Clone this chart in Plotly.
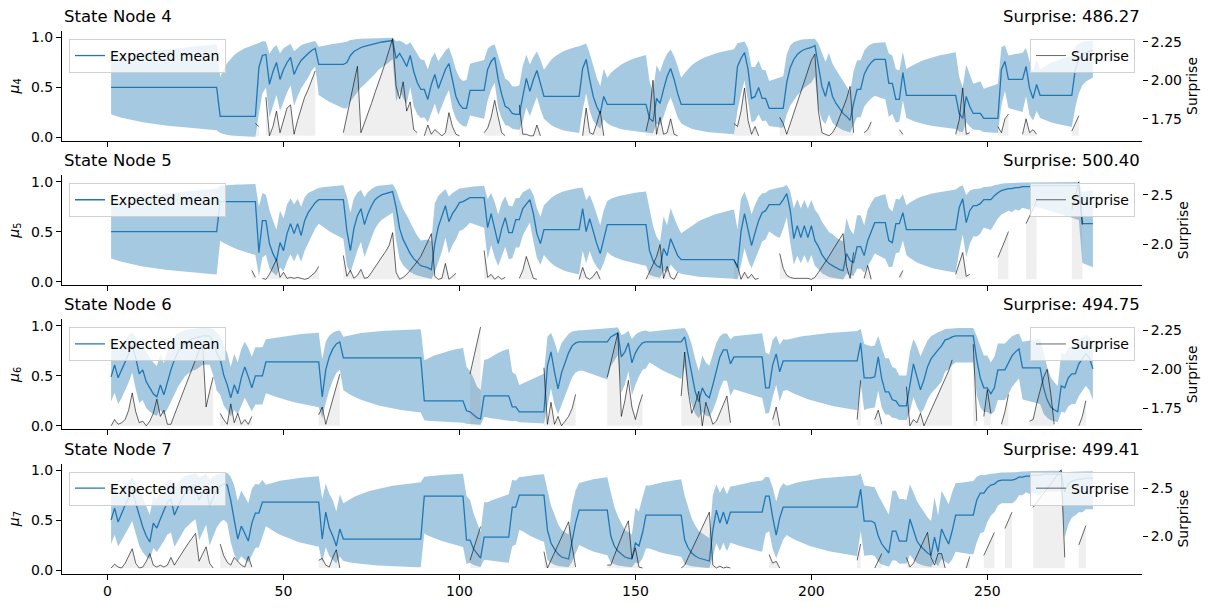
import numpy as np
import plotly.graph_objects as go

N_STEPS = 280
node_ids = [4, 5, 6, 7]
total_surprise = [486.27, 500.40, 494.75, 499.41]

# ---------------- State node 4 ----------------
mean_4 = ([0.50] * 31 + [0.21] * 11
          + [0.70, 0.82, 0.83, 0.53, 0.66, 0.75, 0.58, 0.68, 0.75, 0.80, 0.63, 0.71, 0.77, 0.81, 0.84, 0.87, 0.89]
          + [0.73] * 8
          + [0.75, 0.82, 0.86, 0.88, 0.90, 0.91, 0.92, 0.93, 0.94, 0.95, 0.955, 0.96, 0.965, 0.97]
          + [0.79, 0.84, 0.78, 0.71, 0.82, 0.66, 0.55, 0.48, 0.48, 0.38, 0.53, 0.63, 0.49, 0.58, 0.68, 0.74, 0.56, 0.41, 0.33, 0.29, 0.29]
          + [0.47] * 5
          + [0.68, 0.76, 0.80, 0.58, 0.43, 0.31, 0.29, 0.24, 0.23, 0.23, 0.41, 0.59, 0.46, 0.58, 0.67, 0.54, 0.41]
          + [0.41] * 10
          + [0.69, 0.78, 0.58, 0.41, 0.31, 0.24, 0.41, 0.33]
          + [0.33] * 11
          + [0.19, 0.16, 0.39, 0.34, 0.48, 0.61, 0.69, 0.58, 0.44, 0.33]
          + [0.33] * 15
          + [0.71, 0.79, 0.85, 0.68, 0.39, 0.41, 0.50, 0.39, 0.39, 0.29]
          + [0.29] * 4
          + [0.55, 0.70, 0.78, 0.83, 0.86, 0.88, 0.89, 0.90, 0.92]
          + [0.71, 0.51, 0.41, 0.56, 0.41, 0.34, 0.29, 0.24, 0.21, 0.17]
          + [0.34, 0.48, 0.48, 0.63, 0.70, 0.75, 0.78]
          + [0.78] * 3
          + [0.54, 0.54, 0.38, 0.38, 0.65, 0.42]
          + [0.42] * 14
          + [0.24, 0.19, 0.41, 0.31, 0.24, 0.24, 0.24, 0.19]
          + [0.19] * 4
          + [0.68, 0.76, 0.58, 0.58, 0.58, 0.58, 0.58, 0.71, 0.49, 0.39, 0.53, 0.42]
          + [0.42] * 9
          + [0.68, 0.78, 0.83, 0.85, 0.86, 0.87])
sd_4 = ([1.20, 1.27, 1.34, 1.40, 1.46, 1.52, 1.57, 1.62, 1.67, 1.72, 1.77, 1.82, 1.86, 1.90, 1.94, 1.98,
         2.02, 2.06, 2.10, 2.14, 2.18, 2.22, 2.26, 2.30, 2.34, 2.38, 2.42, 2.46, 2.50, 2.54, 2.58]
        + [1.75, 2.10, 2.40, 2.65, 2.88, 3.08, 3.26, 3.43, 3.59, 3.74, 3.88]
        + [2.0, 1.75, 1.6, 1.5, 1.45, 1.4, 1.35, 1.35, 1.3, 1.3, 1.3, 1.25, 1.25, 1.25, 1.25, 1.2, 1.2]
        + [1.3, 1.4, 1.5, 1.58, 1.66, 1.74, 1.81, 1.88]
        + [2.0, 2.1, 2.2, 2.2, 2.2, 2.2, 2.2, 2.2, 2.2, 2.2, 2.2, 2.2, 2.2, 2.2]
        + [1.9, 1.8, 1.7, 1.6, 1.5, 1.45, 1.4, 1.35, 1.3, 1.25, 1.2, 1.2, 1.2, 1.15, 1.15, 1.15, 1.15, 1.1, 1.1, 1.15, 1.2]
        + [1.15, 1.2, 1.25, 1.3, 1.35]
        + [1.3, 1.25, 1.2, 1.2, 1.15, 1.15, 1.15, 1.2, 1.25, 1.3, 1.3, 1.2, 1.15, 1.1, 1.1, 1.1, 1.1]
        + [1.35, 1.6, 1.8, 1.97, 2.12, 2.26, 2.39, 2.51, 2.62, 2.72]
        + [1.8, 1.5, 1.35, 1.25, 1.2, 1.2, 1.15, 1.1]
        + [1.3, 1.45, 1.58, 1.7, 1.8, 1.9, 1.98, 2.06, 2.13, 2.2, 2.26]
        + [1.7, 1.5, 1.4, 1.3, 1.25, 1.2, 1.2, 1.15, 1.15, 1.1]
        + [1.3, 1.5, 1.66, 1.8, 1.92, 2.03, 2.13, 2.22, 2.31, 2.39, 2.46, 2.53, 2.6, 2.66, 2.72]
        + [1.9, 1.6, 1.45, 1.35, 1.3, 1.25, 1.2, 1.2, 1.15, 1.15]
        + [1.2, 1.25, 1.3, 1.35]
        + [1.4, 1.6, 1.8, 1.9, 2.0, 2.0, 2.0, 2.0, 2.0]
        + [1.8, 1.6, 1.5, 1.45, 1.4, 1.4, 1.4, 1.4, 1.4, 1.4]
        + [1.35, 1.3, 1.3, 1.35, 1.45, 1.55, 1.6]
        + [1.65, 1.7, 1.75]
        + [1.5, 1.35, 1.25, 1.2, 1.15, 1.1]
        + [1.2, 1.3, 1.4, 1.48, 1.56, 1.63, 1.7, 1.76, 1.82, 1.88, 1.93, 1.98, 2.03, 2.08]
        + [1.6, 1.45, 1.35, 1.3, 1.3, 1.35, 1.4, 1.4]
        + [1.45, 1.5, 1.55, 1.6]
        + [1.5, 1.3, 1.2, 1.25, 1.3, 1.35, 1.4, 1.25, 1.2, 1.15, 1.15, 1.1]
        + [1.2, 1.3, 1.4, 1.48, 1.56, 1.63, 1.7, 1.76, 1.82]
        + [1.6, 1.5, 1.5, 1.5, 1.5, 1.5])
surprise_4 = {
    42: [1.72, 1.70],
    45: [1.89, 1.64, 1.70, 1.80, 1.66, 1.74, 1.82, 1.84, 1.65, 1.74, 1.82, 1.89, 1.94, 2.00, 2.06],
    67: [1.66, 1.77, 1.88, 1.98, 2.09, 1.66, 1.72, 1.78, 1.85, 1.92, 1.98, 2.05, 2.12, 2.19, 2.27,
         1.96, 1.88, 1.99, 1.80, 1.86, 1.68, 1.66],
    90: [1.64, 1.71, 1.65, 1.68, 1.66, 1.64, 1.66, 1.79, 1.70, 1.65, 1.64],
    107: [1.66, 1.69, 1.76, 1.87, 1.76, 1.66, 1.64],
    117: [1.84, 1.65, 1.65, 1.64, 1.64, 1.71, 1.64],
    135: [1.64, 1.82, 1.66, 1.65, 1.72, 1.80, 1.64],
    153: [1.67, 1.77, 2.00, 1.65, 1.76, 1.65, 1.66, 1.75, 1.65, 1.64],
    178: [1.72, 1.70, 1.80, 1.95, 1.74, 1.65, 1.70, 1.64],
    191: [1.76, 1.72, 1.65, 1.72, 1.78, 1.85, 1.92, 1.99, 2.06, 2.13, 2.17, 1.80, 1.66, 1.65, 1.64,
          1.66, 1.70, 1.76, 1.82, 1.88, 1.96, 1.66],
    215: [1.66, 1.68, 1.73],
    225: [1.68, 1.65],
    241: [1.65, 1.74, 1.95, 1.65, 1.66],
    253: [1.70, 1.66, 1.75, 1.78],
    260: [1.65, 1.75, 1.66, 1.68, 1.65],
    274: [1.67, 1.72, 1.77],
}

# ---------------- State node 5 ----------------
mean_5 = ([0.50] * 31 + [0.80] * 11
          + [0.29, 0.61, 0.61, 0.38, 0.28, 0.21, 0.39, 0.31, 0.48, 0.58, 0.48, 0.58, 0.46, 0.61, 0.69, 0.74, 0.79, 0.82]
          + [0.82] * 7
          + [0.51, 0.31, 0.53, 0.66, 0.73, 0.57, 0.68, 0.76, 0.82, 0.85, 0.87, 0.88, 0.89, 0.90]
          + [0.74, 0.53, 0.42, 0.35, 0.28, 0.23, 0.19, 0.16, 0.15, 0.14, 0.12]
          + [0.38, 0.55, 0.66, 0.76, 0.60, 0.68, 0.73, 0.79, 0.80, 0.82, 0.84]
          + [0.84] * 4
          + [0.54, 0.68, 0.53, 0.38, 0.53, 0.64, 0.49, 0.49, 0.62, 0.62, 0.73, 0.78, 0.82, 0.68, 0.48, 0.38, 0.52]
          + [0.52] * 10
          + [0.73, 0.50, 0.63, 0.49, 0.38, 0.28, 0.43, 0.57]
          + [0.57] * 11
          + [0.31, 0.21, 0.16, 0.14, 0.33, 0.26, 0.43, 0.34, 0.26, 0.22]
          + [0.22] * 15
          + [0.14, 0.50, 0.68, 0.51, 0.36, 0.49, 0.61, 0.69, 0.71, 0.77]
          + [0.77] * 3
          + [0.82, 0.88, 0.71, 0.43, 0.56, 0.44, 0.56, 0.44, 0.56, 0.41, 0.35, 0.27, 0.22, 0.18, 0.16, 0.14,
             0.12, 0.11, 0.28, 0.21, 0.19, 0.35, 0.35, 0.26, 0.41, 0.50, 0.59]
          + [0.59] * 3
          + [0.41, 0.39, 0.58, 0.58, 0.69, 0.52]
          + [0.52] * 14
          + [0.74, 0.83, 0.59, 0.71, 0.76, 0.76, 0.78, 0.82, 0.82, 0.82, 0.86, 0.89, 0.91, 0.92, 0.93, 0.93,
             0.94, 0.94, 0.95, 0.95, 0.95]
          + [0.96] * 14
          + [0.58] * 4)
sd_5 = ([1.20, 1.27, 1.34, 1.40, 1.46, 1.52, 1.57, 1.62, 1.67, 1.72, 1.77, 1.82, 1.86, 1.90, 1.94, 1.98,
         2.02, 2.06, 2.10, 2.14, 2.18, 2.22, 2.26, 2.30, 2.34, 2.38, 2.42, 2.46, 2.50, 2.54, 2.58]
        + [1.75, 1.85, 1.93, 2.0, 2.07, 2.13, 2.19, 2.25, 2.3, 2.35, 2.4]
        + [2.0, 1.6, 1.45, 1.4, 1.4, 1.4, 1.35, 1.35, 1.3, 1.3, 1.3, 1.25, 1.25, 1.25, 1.25, 1.2, 1.2, 1.2]
        + [1.3, 1.4, 1.5, 1.58, 1.66, 1.73, 1.8]
        + [1.7, 1.6, 1.5, 1.45, 1.4, 1.4, 1.4, 1.4, 1.4, 1.4, 1.4, 1.4, 1.4, 1.4]
        + [1.4, 1.35, 1.3, 1.3, 1.3, 1.3, 1.3, 1.3, 1.4, 1.5, 1.6]
        + [1.8, 1.6, 1.5, 1.4, 1.35, 1.3, 1.3, 1.3, 1.3, 1.3, 1.3]
        + [1.35, 1.4, 1.45, 1.5]
        + [1.4, 1.3, 1.25, 1.2, 1.2, 1.2, 1.2, 1.15, 1.15, 1.15, 1.15, 1.15, 1.15, 1.15, 1.1, 1.1, 1.1]
        + [1.3, 1.55, 1.75, 1.92, 2.07, 2.2, 2.32, 2.43, 2.53, 2.62]
        + [1.8, 1.5, 1.35, 1.3, 1.25, 1.2, 1.2, 1.15]
        + [1.3, 1.4, 1.48, 1.55, 1.62, 1.68, 1.74, 1.8, 1.85, 1.9, 1.95]
        + [1.8, 1.55, 1.45, 1.4, 1.35, 1.3, 1.3, 1.25, 1.25, 1.2]
        + [1.3, 1.42, 1.52, 1.61, 1.69, 1.76, 1.83, 1.89, 1.95, 2.0, 2.05, 2.1, 2.14, 2.18, 2.22]
        + [1.9, 1.6, 1.45, 1.35, 1.3, 1.25, 1.25, 1.2, 1.2, 1.2]
        + [1.3, 1.4, 1.45]
        + [1.4, 1.4, 1.35, 1.3, 1.3, 1.25, 1.25, 1.25, 1.25, 1.3, 1.35, 1.4, 1.45, 1.5, 1.55, 1.6, 1.65, 1.7,
           1.5, 1.4, 1.35, 1.3, 1.3, 1.3, 1.3, 1.3, 1.3]
        + [1.4, 1.5, 1.6]
        + [1.4, 1.3, 1.25, 1.2, 1.15, 1.1]
        + [1.25, 1.4, 1.52, 1.63, 1.73, 1.82, 1.91, 1.99, 2.06, 2.13, 2.2, 2.26, 2.32, 2.38]
        + [1.9, 1.7, 1.5, 1.4, 1.35, 1.35, 1.35, 1.35, 1.4, 1.45, 1.5, 1.55, 1.6, 1.65, 1.7, 1.75, 1.8, 1.85,
           1.9, 1.95, 2.0]
        + [2.05, 2.1, 2.15, 2.2, 2.25, 2.3, 2.35, 2.4, 2.45, 2.5, 2.55, 2.6, 2.65, 2.7]
        + [1.8, 1.9, 2.0, 2.1])
surprise_5 = {
    41: [1.74, 1.67],
    44: [1.66, 1.65, 1.70, 1.78, 1.85, 1.67, 1.72, 1.66, 1.67, 1.66, 1.67, 1.66, 1.65, 1.66, 1.69, 1.72, 1.78],
    67: [1.89, 1.68, 1.74, 1.66, 1.69, 1.75, 1.66, 1.67, 1.72, 1.77, 1.83, 1.88, 1.93, 1.99, 2.12, 1.72,
         1.65, 1.67, 1.70, 1.74, 1.78, 1.83, 1.88, 1.95, 2.03, 2.11, 1.68, 1.65, 1.66, 1.81, 1.65, 1.68, 1.71],
    107: [1.94, 1.67, 1.70, 1.65, 1.68, 1.65, 1.67],
    117: [1.66, 1.74, 1.88, 1.76, 1.66, 1.65],
    134: [1.65, 1.77, 1.67, 1.65, 1.68, 1.73, 1.65],
    153: [1.65, 1.72, 1.80, 1.88, 2.00, 1.66, 1.78, 1.67, 1.65, 1.72],
    178: [1.84, 1.79, 1.65, 1.72, 1.66, 1.70, 1.65, 1.66],
    191: [1.91, 1.76, 1.69, 1.67, 1.66, 1.66, 1.66, 1.66, 1.66, 1.65, 1.67, 1.72, 1.77, 1.82, 1.88, 1.94,
          2.00, 2.06, 2.11, 1.78, 1.66, 1.92],
    215: [1.66, 1.79, 1.65],
    225: [1.67, 1.74],
    241: [1.70, 1.80, 1.92, 1.68, 1.70],
    253: [1.87, 1.95, 2.04, 2.13],
    261: [2.21, 2.28, 2.36, 2.44],
    274: [2.35, 2.50, 2.63, 2.20],
}

# ---------------- State node 6 ----------------
mean_6 = ([0.49, 0.61, 0.48, 0.56, 0.64, 0.73, 0.80, 0.68, 0.52, 0.56, 0.44, 0.38, 0.32, 0.29, 0.41, 0.31,
           0.44, 0.56, 0.66, 0.74, 0.79, 0.83, 0.85, 0.87, 0.88, 0.89, 0.90, 0.90, 0.90, 0.85, 0.73, 0.67,
           0.51, 0.41, 0.28, 0.41, 0.32, 0.48, 0.59, 0.49, 0.38, 0.50, 0.50, 0.50, 0.64]
          + [0.64] * 15
          + [0.29, 0.56, 0.69, 0.77, 0.82, 0.84, 0.68]
          + [0.68] * 22
          + [0.25] * 12
          + [0.15, 0.14, 0.11, 0.08, 0.07, 0.30]
          + [0.30] * 7
          + [0.19, 0.19, 0.14]
          + [0.14] * 7
          + [0.60, 0.74, 0.54, 0.37, 0.53, 0.63, 0.73, 0.80, 0.83, 0.84, 0.84]
          + [0.84] * 7
          + [0.89, 0.91, 0.93, 0.69, 0.74, 0.83, 0.63, 0.73, 0.79, 0.83, 0.84]
          + [0.84] * 10
          + [0.89, 0.71, 0.52, 0.34, 0.24, 0.38, 0.31, 0.28, 0.41, 0.56, 0.69, 0.76, 0.76, 0.62, 0.69]
          + [0.69] * 8
          + [0.38, 0.38, 0.61, 0.72, 0.54, 0.65]
          + [0.65] * 21
          + [0.83, 0.48, 0.48, 0.48, 0.49, 0.69, 0.47, 0.34, 0.34, 0.26, 0.25, 0.20, 0.20, 0.20, 0.41, 0.62,
             0.49, 0.36, 0.46, 0.59, 0.67, 0.72, 0.76, 0.80, 0.86, 0.87, 0.89, 0.90, 0.90, 0.90, 0.90, 0.90,
             0.90, 0.66, 0.48, 0.38, 0.38, 0.32, 0.38, 0.56, 0.56, 0.56, 0.63, 0.70, 0.74, 0.77]
          + [0.58] * 6
          + [0.38, 0.26, 0.19, 0.16, 0.14, 0.40, 0.38, 0.48, 0.52, 0.52, 0.62, 0.67, 0.72, 0.68, 0.57])
sd_6 = ([1.1, 1.15, 1.2, 1.2, 1.2, 1.25, 1.25, 1.3, 1.3, 1.3, 1.3, 1.3, 1.3, 1.3, 1.3, 1.3, 1.35, 1.4, 1.45,
         1.5, 1.55, 1.6, 1.65, 1.7, 1.75, 1.75, 1.75, 1.75, 1.75, 1.7, 1.6, 1.5, 1.4, 1.35, 1.3, 1.3, 1.3,
         1.3, 1.3, 1.3, 1.3, 1.3, 1.3, 1.3, 1.3]
        + [1.35, 1.42, 1.48, 1.54, 1.6, 1.65, 1.7, 1.75, 1.8, 1.85, 1.89, 1.93, 1.97, 2.01, 2.05]
        + [1.6, 1.45, 1.4, 1.4, 1.4, 1.4, 1.35]
        + [1.45, 1.55, 1.64, 1.72, 1.8, 1.87, 1.94, 2.0, 2.06, 2.12, 2.17, 2.22, 2.27, 2.32, 2.36, 2.4, 2.44,
           2.48, 2.52, 2.56, 2.6, 2.63]
        + [1.75, 1.83, 1.9, 1.97, 2.03, 2.09, 2.14, 2.19, 2.24, 2.28, 2.32, 2.36]
        + [2.1, 2.0, 2.0, 2.0, 2.0, 1.5]
        + [1.55, 1.65, 1.75, 1.84, 1.92, 2.0, 2.07]
        + [1.6, 1.5, 1.45]
        + [1.52, 1.59, 1.66, 1.72, 1.78, 1.84, 1.9]
        + [1.7, 1.55, 1.5, 1.5, 1.45, 1.45, 1.45, 1.45, 1.45, 1.45, 1.45]
        + [1.5, 1.55, 1.6, 1.65, 1.7, 1.75, 1.8]
        + [1.7, 1.7, 1.7, 1.5, 1.4, 1.4, 1.35, 1.35, 1.35, 1.35, 1.35]
        + [1.1, 1.2, 1.3, 1.38, 1.46, 1.53, 1.6, 1.66, 1.72, 1.78]
        + [1.7, 1.5, 1.4, 1.35, 1.35, 1.35, 1.35, 1.35, 1.35, 1.35, 1.35, 1.35, 1.35, 1.35, 1.35]
        + [1.4, 1.45, 1.5, 1.55, 1.6, 1.65, 1.7, 1.75]
        + [1.5, 1.4, 1.35, 1.3, 1.3, 1.25]
        + [1.2, 1.28, 1.36, 1.43, 1.5, 1.57, 1.63, 1.69, 1.75, 1.81, 1.86, 1.91, 1.96, 2.01, 2.06, 2.1, 2.15,
           2.19, 2.23, 2.27, 2.31]
        + [1.9, 1.6, 1.5, 1.45, 1.45, 1.4, 1.4, 1.4, 1.4, 1.4, 1.4, 1.4, 1.4, 1.4, 1.4, 1.4, 1.4, 1.4, 1.4,
           1.4, 1.45, 1.5, 1.55, 1.6, 1.65, 1.65, 1.65, 1.65, 1.65, 1.65, 1.65, 1.65, 1.65, 1.5, 1.4, 1.35,
           1.35, 1.3, 1.3, 1.3, 1.3, 1.3, 1.3, 1.3, 1.3, 1.3]
        + [1.35, 1.4, 1.45, 1.5, 1.55, 1.6]
        + [1.5, 1.4, 1.4, 1.4, 1.4, 1.4, 1.4, 1.35, 1.35, 1.35, 1.35, 1.35, 1.35, 1.35, 1.35])
surprise_6 = {
    1: [1.64, 1.68, 1.65, 1.66, 1.68, 1.74, 1.85, 1.73, 1.66, 1.67, 1.64, 1.67, 1.72, 1.81, 1.70, 1.74,
        1.65, 1.65, 1.71, 1.77, 1.83, 1.89, 1.95, 2.01, 2.07, 2.12, 2.16, 1.76, 1.86, 1.95],
    32: [1.72, 1.68, 1.65, 1.78, 1.66, 1.72, 1.65, 1.68, 1.65, 1.70],
    60: [1.71, 1.76, 1.65, 1.73, 1.81, 1.89, 1.97],
    103: [1.97, 2.07, 2.17, 2.27],
    124: [2.01, 1.65, 1.79, 1.65, 1.70, 1.64, 1.67, 1.70, 1.75, 1.84],
    142: [1.95, 2.05, 2.14, 2.23, 1.70, 1.80, 1.93, 1.76, 1.68, 1.77, 1.84],
    163: [1.83, 2.11, 1.86, 1.72, 1.78, 1.86, 1.64, 1.79, 1.72, 1.65, 1.67, 1.72, 1.77, 1.83, 1.66],
    189: [1.68, 1.76, 1.64],
    213: [1.68, 1.93],
    218: [1.68, 1.74, 1.65],
    227: [1.89, 1.64, 1.68, 1.66, 1.72, 1.64, 1.69, 1.74, 1.79, 1.84, 1.88, 1.93, 1.99, 2.06],
    246: [2.16, 1.67],
    249: [1.70, 1.87, 1.72],
    254: [1.65, 1.73, 1.84],
    262: [1.67, 1.68, 1.78, 1.87, 1.95, 2.00, 1.85, 1.65],
    276: [1.64, 1.70, 1.80],
}

# ---------------- State node 7 ----------------
mean_7 = ([0.50, 0.62, 0.48, 0.57, 0.65, 0.72, 0.78, 0.67, 0.54, 0.43, 0.34, 0.28, 0.47, 0.42, 0.51, 0.60,
           0.68, 0.71, 0.55, 0.63, 0.71, 0.77, 0.80, 0.83, 0.85, 0.70, 0.77, 0.82, 0.64, 0.73, 0.80, 0.84,
           0.86, 0.85, 0.70, 0.50, 0.31, 0.44, 0.36, 0.29, 0.47, 0.57, 0.57, 0.68]
          + [0.68] * 16
          + [0.31, 0.58, 0.42, 0.34, 0.24, 0.41, 0.31]
          + [0.31] * 22
          + [0.74] * 12
          + [0.30, 0.30, 0.21, 0.16, 0.12, 0.33]
          + [0.33] * 7
          + [0.63, 0.63, 0.75]
          + [0.75] * 7
          + [0.40, 0.27, 0.21, 0.16, 0.13, 0.12, 0.11, 0.29, 0.47, 0.60]
          + [0.60] * 8
          + [0.34, 0.24, 0.19, 0.16, 0.13, 0.12, 0.11, 0.27, 0.24, 0.37, 0.55]
          + [0.55] * 10
          + [0.30, 0.22, 0.17, 0.14, 0.12, 0.11, 0.10, 0.09, 0.40, 0.60, 0.47, 0.58, 0.46, 0.58]
          + [0.58] * 9
          + [0.74, 0.74, 0.53, 0.35, 0.52, 0.63]
          + [0.63] * 21
          + [0.81, 0.49, 0.49, 0.49, 0.47, 0.34, 0.26, 0.21, 0.17, 0.39, 0.39, 0.29, 0.29, 0.29, 0.51, 0.39,
             0.29, 0.24, 0.20, 0.17, 0.15, 0.33, 0.18, 0.41, 0.33, 0.26, 0.39, 0.55]
          + [0.55] * 5
          + [0.70, 0.77, 0.77, 0.82, 0.85, 0.86, 0.89, 0.90, 0.90, 0.90, 0.90, 0.91, 0.93, 0.93, 0.94]
          + [0.94, 0.95, 0.95, 0.95, 0.96, 0.96, 0.96, 0.96, 0.96, 0.96]
          + [0.78, 0.86, 0.89, 0.90, 0.91, 0.91, 0.92, 0.92, 0.92])
sd_7 = ([1.05, 1.1, 1.1, 1.15, 1.2, 1.25, 1.3, 1.3, 1.3, 1.25, 1.2, 1.15, 1.15, 1.2, 1.25, 1.3, 1.35, 1.4,
         1.4, 1.45, 1.5, 1.55, 1.6, 1.65, 1.7, 1.7, 1.7, 1.7, 1.7, 1.7, 1.7, 1.75, 1.8, 1.85, 1.8, 1.7, 1.6,
         1.6, 1.6, 1.6, 1.6, 1.55, 1.5, 1.45]
        + [1.0, 1.1, 1.2, 1.28, 1.36, 1.43, 1.5, 1.56, 1.62, 1.68, 1.73, 1.78, 1.83, 1.87, 1.91, 1.95]
        + [1.7, 1.55, 1.5, 1.5, 1.5, 1.5, 1.5]
        + [1.6, 1.7, 1.8, 1.88, 1.96, 2.03, 2.1, 2.16, 2.22, 2.28, 2.33, 2.38, 2.43, 2.48, 2.52, 2.56, 2.6,
           2.64, 2.68, 2.72, 2.75, 2.78]
        + [1.6, 1.68, 1.75, 1.82, 1.88, 1.94, 2.0, 2.05, 2.1, 2.15, 2.2, 2.25]
        + [1.9, 1.7, 1.6, 1.55, 1.5, 1.45]
        + [1.45, 1.53, 1.6, 1.67, 1.73, 1.79, 1.85]
        + [1.7, 1.6, 1.5]
        + [1.55, 1.65, 1.75, 1.83, 1.9, 1.97, 2.03]
        + [1.8, 1.6, 1.55, 1.5, 1.5, 1.5, 1.5, 1.5, 1.5, 1.5]
        + [1.6, 1.7, 1.8, 1.88, 1.96, 2.03, 2.1, 2.16]
        + [1.9, 1.7, 1.6, 1.55, 1.5, 1.5, 1.5, 1.5, 1.5, 1.5, 1.5]
        + [1.5, 1.58, 1.66, 1.73, 1.8, 1.86, 1.92, 1.98, 2.03, 2.08]
        + [1.9, 1.75, 1.65, 1.6, 1.55, 1.55, 1.55, 1.55, 1.5, 1.4, 1.35, 1.3, 1.3, 1.3]
        + [1.35, 1.42, 1.49, 1.55, 1.61, 1.67, 1.72, 1.77, 1.82]
        + [1.6, 1.5, 1.45, 1.4, 1.4, 1.35]
        + [1.15, 1.25, 1.34, 1.42, 1.5, 1.57, 1.64, 1.71, 1.77, 1.83, 1.89, 1.94, 1.99, 2.04, 2.09, 2.14,
           2.18, 2.22, 2.26, 2.3, 2.34]
        + [1.9, 1.75, 1.7, 1.7, 1.7, 1.75, 1.8, 1.8, 1.8, 1.8, 1.8, 1.8, 1.8, 1.75, 1.75, 1.7, 1.7, 1.7,
           1.7, 1.7, 1.7, 1.7, 1.7, 1.7, 1.7, 1.7, 1.7, 1.7]
        + [1.7, 1.75, 1.8, 1.85, 1.9]
        + [1.8, 1.75, 1.7, 1.6, 1.55, 1.5, 1.5, 1.5, 1.5, 1.5, 1.5, 1.5, 1.5, 1.5, 1.5]
        + [1.6, 1.7, 1.8, 1.85, 1.9, 1.9, 1.9, 1.9, 1.9, 1.9]
        + [2.0, 2.0, 2.0, 2.0, 2.0, 2.0, 2.0, 2.0, 2.0])
surprise_7 = {
    1: [1.67, 1.71, 1.68, 1.67, 1.72, 1.80, 1.87, 1.72, 1.67, 1.68, 1.74, 1.82, 1.70, 1.68, 1.70, 1.68,
        1.70, 1.78, 1.70, 1.76, 1.82, 1.88, 1.93, 1.98, 2.03, 1.74, 1.81, 1.89, 1.72, 1.67],
    32: [1.92, 1.80, 1.73, 1.70, 1.78, 1.74, 1.70, 1.68, 1.79, 1.68],
    60: [1.75, 1.77, 1.70, 1.68, 1.78, 1.86, 1.67],
    103: [1.75, 1.86, 1.97, 2.10],
    124: [1.84, 1.67, 1.75, 1.83, 1.91, 1.99, 2.07, 2.15, 1.90, 1.68],
    142: [1.70, 1.70, 1.80, 1.90, 1.99, 2.08, 2.16, 1.77, 1.88, 1.68, 1.67],
    163: [1.67, 1.70, 1.78, 1.86, 1.94, 2.02, 2.10, 2.17, 2.25, 1.70, 1.67, 1.69, 1.67, 1.68, 1.67],
    188: [1.81, 1.72, 1.74, 1.67],
    213: [1.75, 1.92],
    218: [1.67, 1.74, 1.82],
    227: [1.78, 1.68, 1.72, 1.80, 1.88, 1.96, 2.04, 1.78, 1.70, 1.82, 1.82, 1.67],
    244: [1.67, 1.79],
    249: [1.80, 1.88, 1.96, 2.04],
    255: [2.08, 2.17, 2.25],
    263: [2.30, 2.35, 2.40, 2.45, 2.50, 2.55, 2.60, 2.65, 2.69, 1.78],
    276: [1.91, 2.01, 2.11],
}

# axis settings
x_ticks = [0, 50, 100, 150, 200, 250]
mean_ticks = [0.0, 0.5, 1.0]
surprise_ranges = [[1.607, 2.319], [1.592, 2.697], [1.618, 2.318], [1.613, 2.754]]
surprise_ticks = [[1.75, 2.0, 2.25], [2.0, 2.5], [1.75, 2.0, 2.25], [2.0, 2.5]]
surprise_ticktext = [["1.75", "2.00", "2.25"], ["2.0", "2.5"], ["1.75", "2.00", "2.25"], ["2.0", "2.5"]]

panels = [(mean_4, sd_4, surprise_4), (mean_5, sd_5, surprise_5),
          (mean_6, sd_6, surprise_6), (mean_7, sd_7, surprise_7)]


def expand(segments, n=N_STEPS):
    arr = [None] * n
    for start, vals in segments.items():
        for k, v in enumerate(vals):
            if 0 <= start - 1 + k < n:
                arr[start - 1 + k] = v
    return arr


def sigmoid(z):
    return 1.0 / (1.0 + np.exp(-z))


W, H = 1211, 611
ML, MR, MT, MB = 62, 69, 31, 34
plot_w = W - ML - MR
plot_h = H - MT - MB
panel_px = 110.5
step_px = 145
FONT = "DejaVu Sans"


def py2paper(py):
    return (H - MB - py) / plot_h


def px2paper(px):
    return (px - ML) / plot_w


fig = go.Figure()
layout = {}
annotations = []

for i, (mean, sd, seg) in enumerate(panels):
    n = min(len(mean), len(sd))
    mean_arr = np.array(mean[:n], dtype=float)
    sd_arr = np.array(sd[:n], dtype=float)
    t = np.arange(1, n + 1)
    logit = np.log(mean_arr / (1 - mean_arr))
    upper = sigmoid(logit + sd_arr)
    lower = sigmoid(logit - sd_arr)

    sfx = "" if i == 0 else str(i + 1)
    xref, yref, y2ref = "x" + sfx, "y" + sfx, "y" + str(i + 5)
    leg_l = "legend" if i == 0 else "legend" + str(2 * i + 1)
    leg_r = "legend" + str(2 * i + 2)

    # band
    fig.add_trace(go.Scatter(
        x=list(t) + list(t[::-1]), y=list(upper) + list(lower[::-1]),
        fill="toself", fillcolor="rgba(31,119,180,0.4)", line=dict(width=0),
        mode="lines", hoverinfo="skip", showlegend=False, xaxis=xref, yaxis=yref))
    # mean line
    fig.add_trace(go.Scatter(
        x=t, y=mean_arr, mode="lines", line=dict(color="#1f77b4", width=1.3),
        name="Expected mean", legend=leg_l, xaxis=xref, yaxis=yref))

    # surprise
    s_full = expand(seg)
    vals = [v for v in s_full if v is not None]
    base = min(vals)
    fx, fy = [], []
    run = []
    for k in range(N_STEPS + 1):
        v = s_full[k] if k < N_STEPS else None
        if v is not None:
            run.append((k + 1, v))
        else:
            if len(run) >= 2:
                xs = [p[0] for p in run]
                ys = [p[1] for p in run]
                fx += xs + xs[::-1] + [None]
                fy += ys + [base] * len(xs) + [None]
            run = []
    fig.add_trace(go.Scatter(
        x=fx, y=fy, fill="toself", fillcolor="rgba(127,127,127,0.12)",
        line=dict(width=0), mode="lines", hoverinfo="skip", showlegend=False,
        xaxis=xref, yaxis=y2ref))
    fig.add_trace(go.Scatter(
        x=list(range(1, N_STEPS + 1)), y=s_full, mode="lines", connectgaps=False,
        line=dict(color="black", width=0.6), name="Surprise", legend=leg_r,
        xaxis=xref, yaxis=y2ref))

    top = MT + step_px * i
    bottom = top + panel_px
    dom = [max(0.0, py2paper(bottom)), min(1.0, py2paper(top))]

    layout["xaxis" + sfx] = dict(
        domain=[0, 1], anchor=yref, range=[-12.95, 293.95], tickvals=x_ticks,
        showticklabels=(i == 3), showline=True, linecolor="black", linewidth=1,
        ticks="outside", ticklen=5, tickcolor="black", showgrid=False, zeroline=False,
        tickfont=dict(size=14, color="black", family=FONT))
    if i > 0:
        layout["xaxis" + sfx]["matches"] = "x"
    layout["yaxis" + sfx] = dict(
        domain=dom, anchor=xref, range=[-0.035, 1.065], tickvals=mean_ticks,
        ticktext=["%.1f" % v for v in mean_ticks], showline=True, linecolor="black",
        linewidth=1, ticks="outside", ticklen=5, tickcolor="black", showgrid=False,
        zeroline=False, tickfont=dict(size=14, color="black", family=FONT),
        title=dict(text="<i>μ</i><sub>%d</sub>" % node_ids[i],
                   font=dict(size=14, color="black", family=FONT), standoff=8))
    layout["yaxis" + str(i + 5)] = dict(
        overlaying=yref, side="right", anchor=xref, range=surprise_ranges[i],
        tickvals=surprise_ticks[i], ticktext=surprise_ticktext[i], showline=False,
        ticks="outside", ticklen=5, tickcolor="black", showgrid=False, zeroline=False,
        tickfont=dict(size=14, color="black", family=FONT),
        title=dict(text="Surprise", font=dict(size=14, color="black", family=FONT), standoff=6))

    leg_common = dict(bgcolor="rgba(255,255,255,0.8)", bordercolor="#d0d0d0", borderwidth=1,
                      font=dict(size=14, color="black", family=FONT), yanchor="top",
                      tracegroupgap=0, itemwidth=30)
    layout[leg_l] = dict(x=px2paper(69), y=py2paper(top + 8), xanchor="left", **leg_common)
    layout[leg_r] = dict(x=px2paper(1135), y=py2paper(top + 8), xanchor="right", **leg_common)

    annotations.append(dict(text="State Node %d" % node_ids[i], x=0, y=py2paper(top),
                            xref="paper", yref="paper", xanchor="left", yanchor="bottom",
                            yshift=3, showarrow=False,
                            font=dict(size=16.5, color="black", family=FONT)))
    annotations.append(dict(text="Surprise: %.2f" % total_surprise[i], x=1, y=py2paper(top),
                            xref="paper", yref="paper", xanchor="right", yanchor="bottom",
                            yshift=3, showarrow=False,
                            font=dict(size=16.5, color="black", family=FONT)))

fig.update_layout(**layout)
fig.update_layout(
    width=W, height=H, margin=dict(l=ML, r=MR, t=MT, b=MB),
    plot_bgcolor="white", paper_bgcolor="white",
    font=dict(family=FONT, color="black", size=14),
    annotations=annotations, showlegend=True)

fig.write_html("out.html")
